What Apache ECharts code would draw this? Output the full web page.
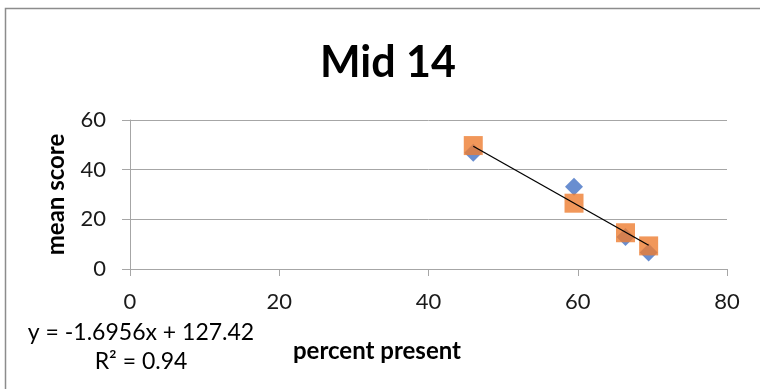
<!DOCTYPE html>
<html>
<head>
<meta charset="utf-8">
<script src="https://cdn.jsdelivr.net/npm/echarts@6/dist/echarts.min.js"></script>
<style>
  html, body { margin: 0; padding: 0; background: #fff; }
  #chart { width: 760px; height: 389px; }
</style>
</head>
<body>
<div id="chart"></div>
<script>
// Attendance vs. mean score, two assessment series
const percentPresent = [46, 59.5, 66.4, 69.5];
const seriesA = [46.8, 33.1, 12.9, 6.6];
const seriesB = [49.7, 26.5, 14.6, 9.3];

// Linear trend fitted on series B
const trendSlope = -1.6956;
const trendIntercept = 127.42;
const trendR2 = 0.94;

const xTicks = [0, 20, 40, 60, 80];
const yTicks = [0, 20, 40, 60];

const pairs = (xs, ys) => xs.map((x, i) => [x, ys[i]]);
const xMin = Math.min(...percentPresent);
const xMax = Math.max(...percentPresent);
const trendData = [xMin, xMax].map(x => [x, trendSlope * x + trendIntercept]);

const FONT = 'Lato';
const chart = echarts.init(document.getElementById('chart'), null, { renderer: 'canvas' });
chart.setOption({
  animation: false,
  backgroundColor: '#fff',
  title: {
    text: 'Mid 14',
    left: 315,
    top: 37,
    textStyle: { fontFamily: FONT, fontWeight: 'bold', fontSize: 43, color: '#000' }
  },
  graphic: [
    {
      type: 'rect',
      shape: { x: 5.5, y: 8.5, width: 800, height: 400 },
      style: { fill: 'none', stroke: '#8c8c8c', lineWidth: 1.5 },
      silent: true
    },
    {
      type: 'text',
      x: 141, y: 333,
      style: {
        text: 'y = ' + trendSlope + 'x + ' + trendIntercept,
        fontFamily: FONT, fontSize: 23, fill: '#000',
        align: 'center', verticalAlign: 'middle'
      }
    },
    {
      type: 'text',
      x: 141, y: 362,
      style: {
        text: 'R\u00b2 = ' + trendR2,
        fontFamily: FONT, fontSize: 23, fill: '#000',
        align: 'center', verticalAlign: 'middle'
      }
    },
    {
      type: 'text',
      x: 377, y: 351,
      style: {
        text: 'percent present',
        fontFamily: FONT, fontWeight: 'bold', fontSize: 24, fill: '#000',
        align: 'center', verticalAlign: 'middle'
      }
    }
  ],
  grid: { left: 130, right: 33, top: 120, bottom: 120 },
  xAxis: {
    type: 'value',
    min: xTicks[0], max: xTicks[xTicks.length - 1], interval: 20,
    axisLine: { show: true, onZero: false, lineStyle: { color: '#a6a6a6', width: 1 } },
    axisTick: { show: true, inside: false, length: 7, lineStyle: { color: '#a6a6a6' } },
    axisLabel: { margin: 22, fontFamily: FONT, fontSize: 22, color: '#1a1a1a' },
    splitLine: { show: false }
  },
  yAxis: {
    type: 'value',
    min: yTicks[0], max: yTicks[yTicks.length - 1], interval: 20,
    name: 'mean score',
    nameLocation: 'middle',
    nameGap: 62,
    nameRotate: 90,
    nameTextStyle: { fontFamily: FONT, fontWeight: 'bold', fontSize: 24, color: '#000' },
    axisLine: { show: true, lineStyle: { color: '#a6a6a6', width: 1 } },
    axisTick: { show: true, inside: false, length: 8, lineStyle: { color: '#a6a6a6' } },
    axisLabel: { margin: 24, fontFamily: FONT, fontSize: 22, color: '#1a1a1a' },
    splitLine: { show: true, lineStyle: { color: '#a6a6a6', width: 1 } }
  },
  series: [
    {
      name: 'Series A',
      type: 'scatter',
      symbol: 'diamond',
      symbolSize: 18,
      itemStyle: { color: '#4472C4' },
      data: pairs(percentPresent, seriesA),
      z: 2
    },
    {
      name: 'Series B',
      type: 'scatter',
      symbol: 'rect',
      symbolSize: 19,
      itemStyle: { color: '#ED7D31' },
      data: pairs(percentPresent, seriesB),
      z: 3
    },
    {
      name: 'Trend',
      type: 'line',
      data: trendData,
      symbol: 'none',
      lineStyle: { color: '#000', width: 1.3 },
      z: 4
    }
  ]
});
</script>
</body>
</html>
